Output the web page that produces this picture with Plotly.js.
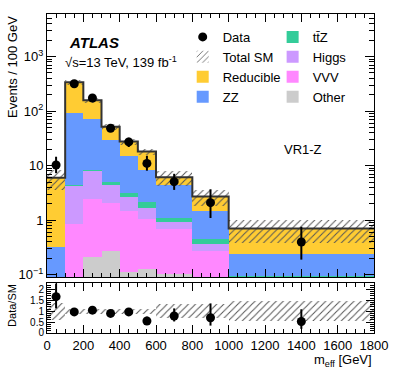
<!DOCTYPE html>
<html>
<head>
<meta charset="utf-8">
<script src="https://cdn.plot.ly/plotly-3.0.1.min.js"></script>
<style>
  html, body { margin: 0; padding: 0; background: #fff; }
  #plot { width: 395px; height: 379px; }
</style>
</head>
<body>
<div id="plot"></div>
<script>
// m_eff bins (GeV), yields are Events / 100 GeV
const binEdges = [0, 100, 200, 300, 400, 500, 600, 800, 1000, 1800];

const reducible = [5.68, 246, 86.4, 22.1, 12.5, 9.75, 1.68, 1.27, 0.465];
const zz        = [0.265, 86.5, 63.4, 24.6, 12.06, 6.3, 3.33, 1.01, 0.145];
const ttz       = [0.005, 0.05, 0.2, 0.6, 0.49, 0.45, 0.19, 0.08, 0.035];
const higgs     = [0.02, 3.46, 5.59, 2.44, 1.17, 0.66, 0.25, 0.093, 0.02];
const vvv       = [0.02, 0.83, 2.195, 1.787, 1.365, 0.913, 0.576, 0.223, 0.03];
const other     = [0.01, 0.04, 0.215, 0.273, 0.115, 0.127, 0.104, 0.05, 0.01];

// relative uncertainty on total SM
const totalUnc = [0.4, 0.12, 0.12, 0.12, 0.12, 0.12, 0.32, 0.32, 0.45];

const dataVals     = [10.3, 318, 174, 48.5, 27.3, 11.0, 5.1, 2.1, 0.40];
const dataErrUp    = [4.3, 18, 13, 7, 5.3, 4.2, 2.0, 1.6, 0.36];
const dataErrDown  = [3.0, 18, 13, 7, 5.3, 2.9, 1.5, 1.0, 0.21];

const ratioVals    = [1.67, 0.97, 1.05, 0.90, 0.97, 0.55, 0.78, 0.70, 0.53];
const ratioErrUp   = [0.6, 0.06, 0.08, 0.12, 0.17, 0.2, 0.35, 0.66, 0.56];
const ratioErrDown = [0.54, 0.06, 0.08, 0.12, 0.17, 0.15, 0.25, 0.36, 0.34];

const mainTicks = [0.1, 1, 10, 100, 1000];
const mainTickText = ['10<sup>−1</sup>', '1', '10', '10<sup>2</sup>', '10<sup>3</sup>'];

const centers = binEdges.slice(0, -1).map((e, i) => (e + binEdges[i + 1]) / 2);
const widths = binEdges.slice(0, -1).map((e, i) => binEdges[i + 1] - e);
const total = centers.map((c, i) =>
  reducible[i] + zz[i] + ttz[i] + higgs[i] + vvv[i] + other[i]);

const FONT = 'Liberation Sans, Arial, sans-serif';

function stackBar(name, vals, color, legend, rank) {
  return {
    type: 'bar', name: name, x: centers, y: vals, width: widths,
    xaxis: 'x2', yaxis: 'y',
    marker: { color: color, line: { width: 0 } },
    legend: legend, legendrank: rank, hoverinfo: 'skip'
  };
}

const hatchPattern = {
  shape: '/', fgcolor: '#555', bgcolor: 'rgba(0,0,0,0)',
  size: 5, solidity: 0.2
};

const traces = [
  stackBar('Other', other, '#cccccc', 'legend2', 4),
  stackBar('VVV', vvv, '#ff88ff', 'legend2', 3),
  stackBar('Higgs', higgs, '#cc99ff', 'legend2', 2),
  stackBar('tt̄Z', ttz, '#33cc99', 'legend2', 1),
  stackBar('ZZ', zz, '#6699ff', 'legend', 4),
  stackBar('Reducible', reducible, '#ffcc33', 'legend', 3),
  {
    type: 'bar', name: 'Total SM', x: centers, width: widths,
    base: total.map((t, i) => t * (1 - totalUnc[i])),
    y: total.map((t, i) => 2 * t * totalUnc[i]),
    xaxis: 'x2', yaxis: 'y',
    marker: { color: 'rgba(0,0,0,0)', line: { width: 0 }, pattern: hatchPattern },
    legend: 'legend', legendrank: 2, hoverinfo: 'skip'
  },
  {
    type: 'scatter', mode: 'lines', x: binEdges, y: total.concat([total[total.length - 1]]),
    xaxis: 'x2', yaxis: 'y', line: { shape: 'hv', color: '#333', width: 2 },
    showlegend: false, hoverinfo: 'skip'
  },
  {
    type: 'scatter', mode: 'markers', name: 'Data', x: centers, y: dataVals,
    xaxis: 'x2', yaxis: 'y',
    marker: { color: 'black', size: 9 },
    error_y: { type: 'data', symmetric: false, array: dataErrUp, arrayminus: dataErrDown,
      color: 'black', thickness: 2, width: 0 },
    legend: 'legend', legendrank: 1
  },
  // ratio panel
  {
    type: 'bar', x: centers, width: widths,
    base: totalUnc.map(u => 1 - u), y: totalUnc.map(u => 2 * u),
    xaxis: 'x', yaxis: 'y2',
    marker: { color: 'rgba(0,0,0,0)', line: { width: 0 }, pattern: hatchPattern },
    showlegend: false, hoverinfo: 'skip'
  },
  {
    type: 'scatter', mode: 'markers', x: centers, y: ratioVals,
    xaxis: 'x', yaxis: 'y2',
    marker: { color: 'black', size: 9 },
    error_y: { type: 'data', symmetric: false, array: ratioErrUp, arrayminus: ratioErrDown,
      color: 'black', thickness: 2, width: 0 },
    showlegend: false
  }
];

const axisCommon = {
  showgrid: false, zeroline: false, showline: true, linecolor: 'black', linewidth: 1,
  mirror: 'allticks', ticks: 'inside', tickcolor: 'black', tickfont: { size: 13, color: 'black' }
};

const legendCommon = {
  bgcolor: 'rgba(0,0,0,0)', font: { size: 13, color: 'black', family: FONT },
  traceorder: 'normal', itemwidth: 30, tracegroupgap: 0,
  xanchor: 'left', yanchor: 'top'
};

const layout = {
  width: 395, height: 379,
  margin: { l: 47, r: 21, t: 14, b: 46 },
  paper_bgcolor: 'white', plot_bgcolor: 'white',
  font: { family: FONT, color: 'black' },
  barmode: 'stack', bargap: 0,
  showlegend: true,
  legend: Object.assign({ x: 0.415, y: 0.975 }, legendCommon),
  legend2: Object.assign({ x: 0.69, y: 0.975 }, legendCommon),
  xaxis: Object.assign({}, axisCommon, {
    domain: [0, 1], anchor: 'y2', range: [0, 1800], dtick: 200, ticklen: 8,
    minor: { dtick: 50, ticks: 'inside', ticklen: 4, tickcolor: 'black' }
  }),
  xaxis2: Object.assign({}, axisCommon, {
    domain: [0, 1], anchor: 'y', matches: 'x', range: [0, 1800], dtick: 200, ticklen: 8,
    showticklabels: false,
    minor: { dtick: 50, ticks: 'inside', ticklen: 4, tickcolor: 'black' }
  }),
  yaxis: Object.assign({}, axisCommon, {
    domain: [0.1755, 1], anchor: 'x2', type: 'log', range: [-1.04, 3.78],
    tickmode: 'array', tickvals: mainTicks, ticktext: mainTickText, ticklen: 9,
    minor: { dtick: 'D1', ticks: 'inside', ticklen: 5, tickcolor: 'black' }
  }),
  yaxis2: Object.assign({}, axisCommon, {
    domain: [0, 0.157], anchor: 'x', range: [0, 2.3], dtick: 0.5, ticklen: 8,
    tickfont: { size: 10, color: 'black' },
    minor: { dtick: 0.1, ticks: 'inside', ticklen: 4, tickcolor: 'black' }
  }),
  annotations: [
    { text: '<b><i>ATLAS</i></b>', xref: 'paper', yref: 'paper', x: 0.06, y: 0.912,
      xanchor: 'left', yanchor: 'middle', showarrow: false, font: { size: 15 } },
    { text: '√s=13 TeV, 139 fb<sup>-1</sup>', xref: 'paper', yref: 'paper', x: 0.05, y: 0.85,
      xanchor: 'left', yanchor: 'middle', showarrow: false, font: { size: 13 } },
    { text: 'VR1-Z', xref: 'paper', yref: 'paper', x: 0.72, y: 0.574,
      xanchor: 'left', yanchor: 'middle', showarrow: false, font: { size: 13 } },
    { text: 'Events / 100 GeV', xref: 'paper', yref: 'paper', x: -0.107, y: 1,
      xanchor: 'center', yanchor: 'top', textangle: -90, showarrow: false, font: { size: 13 } },
    { text: 'Data/SM', xref: 'paper', yref: 'paper', x: -0.107, y: 0.085,
      xanchor: 'center', yanchor: 'middle', textangle: -90, showarrow: false, font: { size: 11 } },
    { text: 'm<sub>eff</sub> [GeV]', xref: 'paper', yref: 'paper', x: 1, y: -0.052,
      xanchor: 'right', yanchor: 'top', showarrow: false, font: { size: 13 } }
  ]
};

Plotly.newPlot('plot', traces, layout, { displayModeBar: false, staticPlot: true });
</script>
</body>
</html>
